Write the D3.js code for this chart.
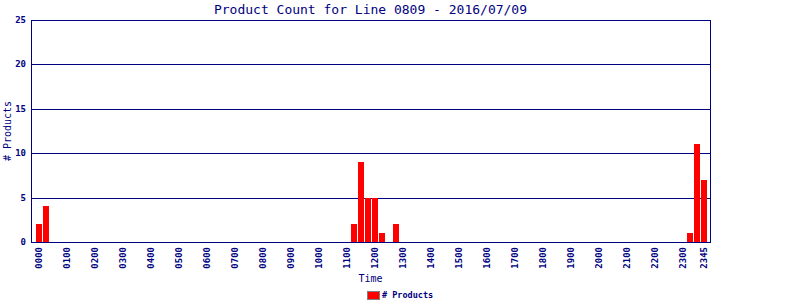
<!DOCTYPE html>
<html>
<head>
<meta charset="utf-8">
<script src="https://cdn.jsdelivr.net/npm/d3@7"></script>
<style>
  body { margin: 0; background: #fff; }
  text { font-family: "DejaVu Sans Mono", monospace; fill: #000080; }
</style>
</head>
<body>
<div class="canvas"></div>
<script>
let width = 800;
let height = 300;
const plot = { left: 31, right: 710, top: 20, bottom: 242 };

// 15 minute slots, 0000 .. 2345
let slots = ['0000','0015','0030','0045','0100','0115','0130','0145','0200','0215','0230','0245',
  '0300','0315','0330','0345','0400','0415','0430','0445','0500','0515','0530','0545',
  '0600','0615','0630','0645','0700','0715','0730','0745','0800','0815','0830','0845',
  '0900','0915','0930','0945','1000','1015','1030','1045','1100','1115','1130','1145',
  '1200','1215','1230','1245','1300','1315','1330','1345','1400','1415','1430','1445',
  '1500','1515','1530','1545','1600','1615','1630','1645','1700','1715','1730','1745',
  '1800','1815','1830','1845','1900','1915','1930','1945','2000','2015','2030','2045',
  '2100','2115','2130','2145','2200','2215','2230','2245','2300','2315','2330','2345'];

let counts = [2,4,0,0, 0,0,0,0, 0,0,0,0, 0,0,0,0, 0,0,0,0, 0,0,0,0,
  0,0,0,0, 0,0,0,0, 0,0,0,0, 0,0,0,0, 0,0,0,0, 0,2,9,5,
  5,1,0,2, 0,0,0,0, 0,0,0,0, 0,0,0,0, 0,0,0,0, 0,0,0,0,
  0,0,0,0, 0,0,0,0, 0,0,0,0, 0,0,0,0, 0,0,0,0, 0,1,11,7];

let xTicks = ['0000','0100','0200','0300','0400','0500','0600','0700','0800','0900','1000','1100',
  '1200','1300','1400','1500','1600','1700','1800','1900','2000','2100','2200','2300','2345'];
let yTicks = [0, 5, 10, 15, 20, 25];

let svg = d3.select('.canvas').append('svg')
  .attr('width', width)
  .attr('height', height);

let xScale = d3.scaleBand()
  .domain(slots)
  .range([35, 707])
  .padding(0);

let yScale = d3.scaleLinear()
  .domain([0, 25])
  .range([plot.bottom, plot.top]);

// grid lines
svg.selectAll('.grid')
  .data(yTicks.filter(d => d > 0))
  .enter()
  .append('line')
  .attr('x1', plot.left)
  .attr('x2', plot.right)
  .attr('y1', d => Math.round(yScale(d)) + 0.5)
  .attr('y2', d => Math.round(yScale(d)) + 0.5)
  .attr('stroke', '#000080')
  .attr('shape-rendering', 'crispEdges');

// bars
svg.selectAll('.bar')
  .data(slots.map((s, i) => ({ slot: s, value: counts[i] })).filter(d => d.value > 0))
  .enter()
  .append('rect')
  .attr('x', d => Math.round(xScale(d.slot)) + 1)
  .attr('y', d => Math.round(yScale(d.value)))
  .attr('width', Math.round(xScale.bandwidth()) - 1)
  .attr('height', d => plot.bottom - Math.round(yScale(d.value)))
  .attr('fill', '#ff0000')
  .attr('shape-rendering', 'crispEdges');

// frame: left, right, bottom
let frame = svg.append('g').attr('stroke', '#000080').attr('shape-rendering', 'crispEdges');
frame.append('line').attr('x1', plot.left + 0.5).attr('x2', plot.left + 0.5).attr('y1', plot.top).attr('y2', plot.bottom + 1);
frame.append('line').attr('x1', plot.right + 0.5).attr('x2', plot.right + 0.5).attr('y1', plot.top).attr('y2', plot.bottom + 1);
frame.append('line').attr('x1', plot.left).attr('x2', plot.right + 1).attr('y1', plot.bottom + 0.5).attr('y2', plot.bottom + 0.5);

// y tick labels
svg.selectAll('.ylab')
  .data(yTicks)
  .enter()
  .append('text')
  .attr('x', 26)
  .attr('y', d => yScale(d) + 3)
  .attr('text-anchor', 'end')
  .style('font-size', '9px')
  .style('font-weight', 'bold')
  .text(d => d);

// x tick labels (rotated)
svg.selectAll('.xlab')
  .data(xTicks)
  .enter()
  .append('text')
  .attr('transform', d => `translate(${xScale(d) + xScale.bandwidth() / 2 + 3}, 247) rotate(-90)`)
  .attr('text-anchor', 'end')
  .style('font-size', '9px')
  .style('font-weight', 'bold')
  .text(d => d);

// title
svg.append('text')
  .attr('x', (plot.left + plot.right) / 2)
  .attr('y', 14)
  .attr('text-anchor', 'middle')
  .style('font-size', '13px')
  .text('Product Count for Line 0809 - 2016/07/09');

// axis titles
svg.append('text')
  .attr('x', (plot.left + plot.right) / 2)
  .attr('y', 282)
  .attr('text-anchor', 'middle')
  .style('font-size', '10px')
  .text('Time');

svg.append('text')
  .attr('transform', `translate(11, ${(plot.top + plot.bottom) / 2}) rotate(-90)`)
  .attr('text-anchor', 'middle')
  .style('font-size', '10px')
  .text('# Products');

// legend
svg.append('rect')
  .attr('x', 367.5)
  .attr('y', 291.5)
  .attr('width', 12)
  .attr('height', 8)
  .attr('fill', '#ff0000')
  .attr('stroke', '#808080');

svg.append('text')
  .attr('x', 382)
  .attr('y', 298)
  .style('font-size', '8.5px')
  .style('font-weight', 'bold')
  .text('# Products');
</script>
</body>
</html>
